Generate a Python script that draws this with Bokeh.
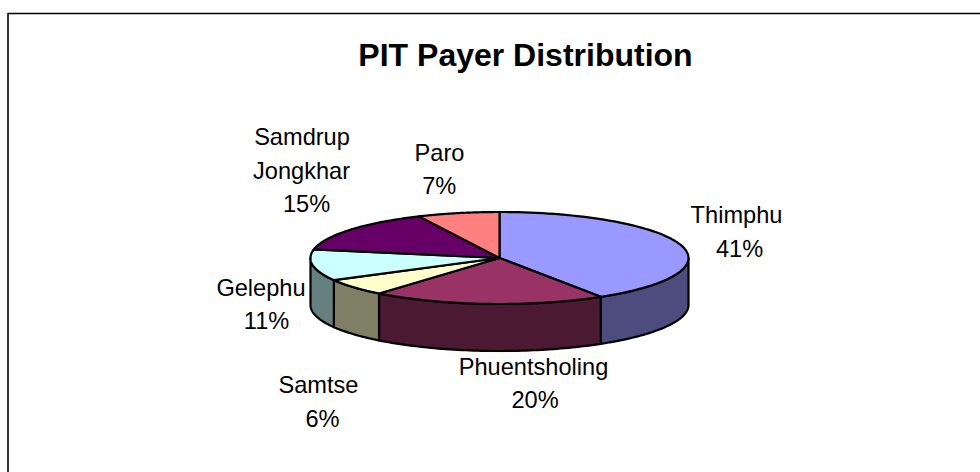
import numpy as np
from bokeh.plotting import figure
from bokeh.models import Range1d
from bokeh.embed import file_html
from bokeh.resources import INLINE
from bokeh.core.properties import value

names = ["Thimphu", "Phuentsholing", "Samtse", "Gelephu", "Samdrup Jongkhar", "Paro"]
shares = [41, 20, 6, 11, 15, 7]
top_colors = ["#9999FF", "#993366", "#FFFFCC", "#CCFFFF", "#660066", "#FF8080"]
side_colors = ["#4C4C7F", "#4C1933", "#7F7F66", "#667F7F", "#330033", "#7F4040"]
label_lines = [["Thimphu", "41%"], ["Phuentsholing", "20%"], ["Samtse", "6%"],
               ["Gelephu", "11%"], ["Samdrup", "Jongkhar", "15%"], ["Paro", "7%"]]
label_x = [[736, 739], [533, 534.5], [318, 322], [260.5, 266], [301.5, 301, 306], [439, 438.7]]
label_y = [[214, 248], [366.5, 399.5], [384.5, 418], [287.5, 320.5], [136.5, 170, 203.5], [152, 185]]
title = "PIT Payer Distribution"

CX, CY, RX, RY, DEPTH = 499, 257.5, 189, 46, 47
W, H = 980, 472

p = figure(width=W, height=H, output_backend="svg", toolbar_location=None,
           x_range=Range1d(0, W), y_range=Range1d(H, 0), min_border=0,
           outline_line_color=None, background_fill_color="white")
p.axis.visible = False
p.grid.visible = False

# chart area frame: only the left and top edges are in view
p.line([7.5, 7.5], [12.5, 472], line_color="#333333", line_width=2)
p.line([7.5, 980], [13, 13], line_color="#000000", line_width=1.5)

p.text([525], [54], text=[title], text_font=value("Liberation Sans"), text_font_size="32px",
       text_font_style="bold", text_align="center", text_baseline="middle", text_color="black")

def pt(a, dy=0.0):
    return CX + RX * np.sin(a), CY - RY * np.cos(a) + dy

edges = np.cumsum([0] + shares) / sum(shares) * 2 * np.pi

# side walls (only the front half of the ellipse is visible)
for i in range(len(shares)):
    a0, a1 = max(edges[i], np.pi / 2), min(edges[i + 1], 3 * np.pi / 2)
    if a1 <= a0:
        continue
    t = np.linspace(a0, a1, 60)
    x, y = pt(t)
    xb, yb = pt(t[::-1], DEPTH)
    p.patch(np.r_[x, xb], np.r_[y, yb], fill_color=side_colors[i], line_color="black",
            line_width=2.2, line_join="round")

# top faces
for i in range(len(shares)):
    t = np.linspace(edges[i], edges[i + 1], 80)
    x, y = pt(t)
    p.patch(np.r_[CX, x], np.r_[CY, y], fill_color=top_colors[i], line_color="black",
            line_width=2.2, line_join="round")

for lines, xs, ys in zip(label_lines, label_x, label_y):
    for s, lx, ly in zip(lines, xs, ys):
        p.text([lx], [ly], text=[s],
               text_font=value("Liberation Sans"), text_font_size="23.6px",
               text_align="center", text_baseline="middle", text_color="black")

open("out.html", "w").write(file_html(p, INLINE))
